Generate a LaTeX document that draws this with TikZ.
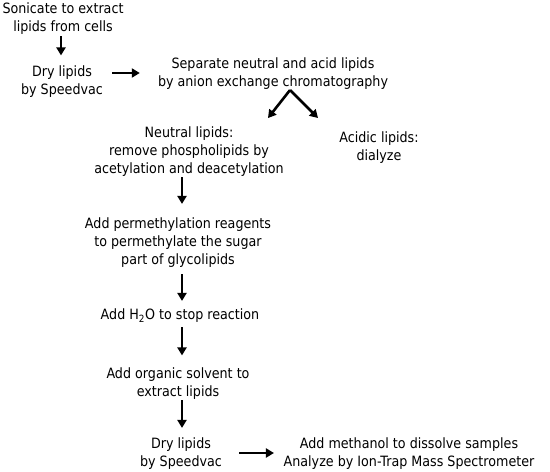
\documentclass[tikz,border=0pt]{standalone}
\usepackage{fontspec}
\setmainfont[FakeStretch=0.895]{DejaVu Sans}
\usetikzlibrary{arrows.meta}
\begin{document}
\begin{tikzpicture}[x=1pt,y=-1pt,
  txt/.style={align=center,inner sep=0pt,font=\fontsize{14.2}{18}\selectfont},
  arr/.style={line width=2.6pt,-{Triangle[length=8pt,width=9pt]}}]
\useasboundingbox (0,0) rectangle (550,472);
\node[txt] (s1) at (63,19) {Sonicate to extract\\lipids from cells};
\node[txt] (d1) at (62,81.5) {Dry lipids\\by Speedvac};
\node[txt] (sep) at (273,74) {Separate neutral and acid lipids\\by anion exchange chromatography};
\node[txt] (neu) at (189,151.5) {Neutral lipids:\\remove phospholipids by\\acetylation and deacetylation};
\node[txt] (aci) at (379,148) {Acidic lipids:\\dialyze};
\node[txt] (perm) at (178,243) {Add permethylation reagents\\to permethylate the sugar\\part of glycolipids};
\node[txt] (h2o) at (180,316) {Add H\textsubscript{2}O to stop reaction};
\node[txt] (org) at (178,383.5) {Add organic solvent to\\extract lipids};
\node[txt] (d2) at (181,454) {Dry lipids\\by Speedvac};
\node[txt] (meth) at (409,454) {Add methanol to dissolve samples\\Analyze by Ion-Trap Mass Spectrometer};
\coordinate (apex) at ([xshift=17pt]sep.south);
\draw[arr,shorten <=1pt,shorten >=10pt] ([xshift=-2pt]s1.south) -- ([xshift=-1pt]d1.north);
\draw[arr,shorten <=9pt,shorten >=18pt] ([yshift=8.5pt]d1.east) -- ([yshift=1pt]sep.west);
\draw[arr] (apex) -- ([xshift=79pt,yshift=8.4pt]neu.north);
\draw[arr] (apex) -- ([xshift=-61pt,yshift=13.9pt]aci.north);
\draw[arr,shorten <=0.5pt,shorten >=14pt] ([xshift=-7pt]neu.south) -- ([xshift=4pt]perm.north);
\draw[arr,shorten <=6pt,shorten >=8pt] ([xshift=4pt]perm.south) -- ([xshift=2pt]h2o.north);
\draw[arr,shorten <=4pt,shorten >=12pt] ([xshift=2pt]h2o.south) -- ([xshift=4pt]org.north);
\draw[arr,shorten <=0.5pt,shorten >=10pt] ([xshift=4pt]org.south) -- ([xshift=1pt]d2.north);
\draw[arr,shorten <=17pt,shorten >=9.5pt] ([yshift=1pt]d2.east) -- ([yshift=1pt]meth.west);
\end{tikzpicture}
\end{document}
